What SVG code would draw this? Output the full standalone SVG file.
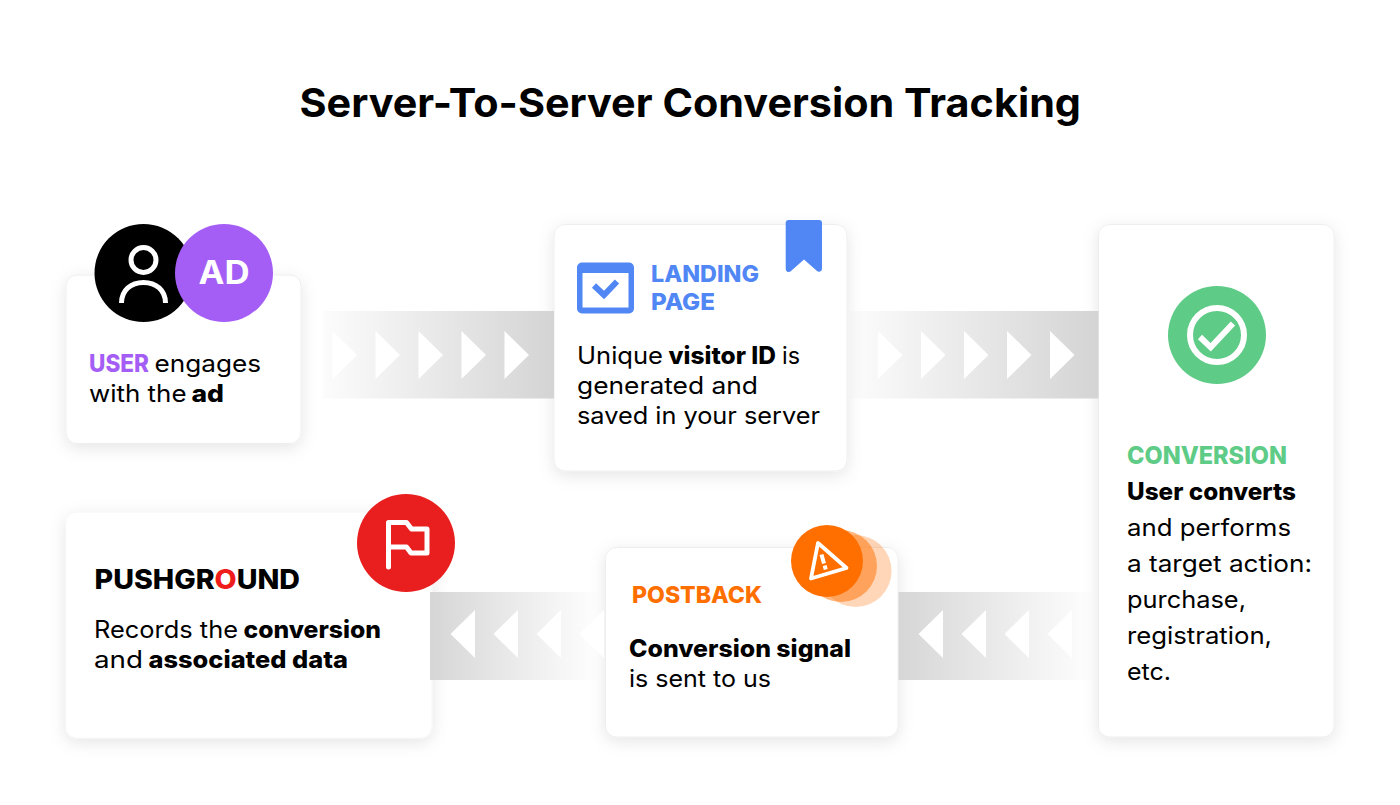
<svg xmlns="http://www.w3.org/2000/svg" width="1400" height="805" viewBox="0 0 1400 805">
<style>
text{font-family:Inter,"Noto Sans","Liberation Sans",sans-serif;font-size:24px;font-weight:400;fill:#000}
.b{font-weight:800}
.h{font-size:23.5px;font-weight:800}
.card{fill:#fff;stroke:#eeeeee;stroke-width:1;filter:url(#sh)}
.tri{fill:#fff}
.ic{fill:none;stroke:#fff;stroke-width:5}
</style>
<defs>
<filter id="sh" x="-20%" y="-20%" width="140%" height="140%"><feDropShadow dx="0" dy="4" stdDeviation="8" flood-color="#000" flood-opacity="0.1"/></filter>
<linearGradient id="gr"><stop offset="0" stop-color="#d4d4d4" stop-opacity="0.07"/><stop offset="1" stop-color="#d4d4d4"/></linearGradient>
<linearGradient id="gl"><stop offset="0" stop-color="#d6d6d6"/><stop offset="1" stop-color="#d6d6d6" stop-opacity="0"/></linearGradient>
</defs>
<rect width="1400" height="805" fill="#fff"/>
<text id="title" x="299.500" y="117" textLength="781.500" lengthAdjust="spacingAndGlyphs" style="font-size:40px;font-weight:700">Server-To-Server Conversion Tracking</text>

<g id="node-user">
<rect class="card" x="66" y="275" width="235" height="168.500" rx="11"/>
<circle cx="143.500" cy="273" r="49" fill="#000"/>
<circle cx="143.500" cy="260" r="12.500" class="ic"/>
<path class="ic" d="M121.500 303C121.500 290 131 282.500 143.500 282.500S165.500 290 165.500 303"/>
<circle cx="224" cy="273" r="49" fill="#a55ef5"/>
<text x="198.500" y="284" textLength="51" lengthAdjust="spacingAndGlyphs" style="font-size:32px;font-weight:700;fill:#fff">AD</text>
<text x="89" y="372"><tspan class="b" style="fill:#a55ef5" textLength="60" lengthAdjust="spacingAndGlyphs">USER</tspan><tspan x="154.500" textLength="106.500" lengthAdjust="spacingAndGlyphs">engages</tspan></text>
<text x="89" y="402"><tspan textLength="97.500" lengthAdjust="spacingAndGlyphs">with the</tspan><tspan x="191.500" class="b" textLength="32.500" lengthAdjust="spacingAndGlyphs">ad</tspan></text>
</g>

<g id="node-landing">
<rect class="card" x="554" y="224.500" width="293" height="246.500" rx="11"/>
<path fill="#5087f5" d="M785.700 223a3 3 0 0 1 3-3H819a3 3 0 0 1 3 3V269a3 3 0 0 1-5 2L804 259.500 791 271a3 3 0 0 1-5.300-2Z"/>
<path fill="#5087f5" fill-rule="evenodd" d="M582 262.500H629a5 5 0 0 1 5 5V308.500a5 5 0 0 1-5 5H582a5 5 0 0 1-5-5V267.500a5 5 0 0 1 5-5ZM582.500 273V307.500H628.500V273Z"/>
<path fill="none" stroke="#5087f5" stroke-width="6" d="M594 285.500L604 295 617 281.500"/>
<text class="h" x="651" y="282" textLength="108" lengthAdjust="spacingAndGlyphs" style="fill:#5087f5">LANDING</text>
<text class="h" x="651" y="310" textLength="64" lengthAdjust="spacingAndGlyphs" style="fill:#5087f5">PAGE</text>
<text x="577" y="364"><tspan textLength="86" lengthAdjust="spacingAndGlyphs">Unique</tspan><tspan x="668.500" class="b" textLength="107.500" lengthAdjust="spacingAndGlyphs">visitor ID</tspan><tspan x="782" textLength="18" lengthAdjust="spacingAndGlyphs">is</tspan></text>
<text x="577" y="394" textLength="181" lengthAdjust="spacingAndGlyphs">generated and</text>
<text x="577" y="424" textLength="243" lengthAdjust="spacingAndGlyphs">saved in your server</text>
</g>

<g id="node-conversion">
<rect class="card" x="1098.500" y="224.500" width="235.500" height="512.500" rx="11"/>
<circle cx="1217" cy="335" r="49" fill="#5ecb87"/>
<circle cx="1217" cy="335" r="27" fill="none" stroke="#fff" stroke-width="6"/>
<path fill="none" stroke="#fff" stroke-width="6" d="M1200 337L1210.700 347.300 1233 323.500"/>
<text class="h" x="1127" y="464" textLength="160" lengthAdjust="spacingAndGlyphs" style="fill:#5ecb87;font-size:25px">CONVERSION</text>
<text class="b" x="1127" y="500" textLength="169" lengthAdjust="spacingAndGlyphs">User converts</text>
<text x="1127" y="536" textLength="164" lengthAdjust="spacingAndGlyphs">and performs</text>
<text x="1127" y="572" textLength="185" lengthAdjust="spacingAndGlyphs">a target action:</text>
<text x="1127" y="608" textLength="119" lengthAdjust="spacingAndGlyphs">purchase,</text>
<text x="1127" y="644" textLength="145" lengthAdjust="spacingAndGlyphs">registration,</text>
<text x="1127" y="680" textLength="44" lengthAdjust="spacingAndGlyphs">etc.</text>
</g>

<g id="node-pushground">
<rect class="card" x="65.500" y="512" width="366.500" height="226" rx="11" style="stroke:#f6f6f6"/>
<circle cx="406" cy="543" r="49" fill="#e91f1f"/>
<path class="ic" stroke-linecap="round" stroke-linejoin="round" d="M388.500 567V522.500H406.500L411.500 529H427V553H411L406.500 547H388.500"/>
<text x="94.500" y="589" textLength="205.500" lengthAdjust="spacingAndGlyphs" style="font-size:27px;font-weight:800">PUSHGR<tspan style="fill:#ef1c1c">O</tspan>UND</text>
<text x="94" y="638"><tspan textLength="144" lengthAdjust="spacingAndGlyphs">Records the</tspan><tspan x="243.500" class="b" textLength="137.500" lengthAdjust="spacingAndGlyphs">conversion</tspan></text>
<text x="94" y="668"><tspan textLength="49" lengthAdjust="spacingAndGlyphs">and</tspan><tspan x="148.500" class="b" textLength="199.500" lengthAdjust="spacingAndGlyphs">associated data</tspan></text>
</g>

<g id="node-postback">
<rect class="card" x="605.500" y="547.500" width="292.500" height="189.500" rx="11"/>
<circle cx="855.600" cy="571" r="36" fill="#ff6f00" opacity="0.28"/>
<circle cx="841" cy="566" r="36" fill="#ff6f00" opacity="0.5"/>
<circle cx="827" cy="561" r="36" fill="#ff6f00"/>
<path fill="none" stroke="#fff" stroke-width="3.800" stroke-linejoin="round" d="M818 543L846.500 568 811 578.500Z"/>
<path fill="none" stroke="#fff" stroke-width="4" d="M821.500 554.500L824 563.500M824.700 565.500L825.700 569.500"/>
<text class="h" x="632" y="603" textLength="130" lengthAdjust="spacingAndGlyphs" style="fill:#ff6f00">POSTBACK</text>
<text class="b" x="629" y="657" textLength="222" lengthAdjust="spacingAndGlyphs">Conversion signal</text>
<text x="629" y="687" textLength="142" lengthAdjust="spacingAndGlyphs">is sent to us</text>
</g>

<g id="connectors">
<g id="conn-user-landing">
<rect x="323" y="311" width="231" height="87.500" fill="url(#gr)"/>
<path class="tri" d="M332.500 331V379L357 355ZM375.500 331V379L400 355ZM418.500 331V379L443 355ZM461.500 331V379L486 355ZM504.500 331V379L529 355Z"/>
</g>
<g id="conn-landing-conversion">
<rect x="850" y="311" width="248.500" height="87.500" fill="url(#gr)"/>
<path class="tri" d="M878 331V379L902.500 355ZM921 331V379L945.500 355ZM964 331V379L988.500 355ZM1007 331V379L1031.500 355ZM1050 331V379L1074.500 355Z"/>
</g>
<g id="conn-conversion-postback">
<rect x="898.500" y="592" width="199.500" height="88" fill="url(#gl)"/>
<path class="tri" d="M943 610V658L918.500 634ZM986 610V658L961.500 634ZM1029 610V658L1004.500 634ZM1072 610V658L1047.500 634Z"/>
</g>
<g id="conn-postback-pushground">
<rect x="430" y="592" width="170" height="88" fill="url(#gl)"/>
<path class="tri" d="M475 610V658L450.500 634ZM518 610V658L493.500 634ZM561 610V658L536.500 634ZM604 610V658L579.500 634Z"/>
</g>
</g>
</svg>
